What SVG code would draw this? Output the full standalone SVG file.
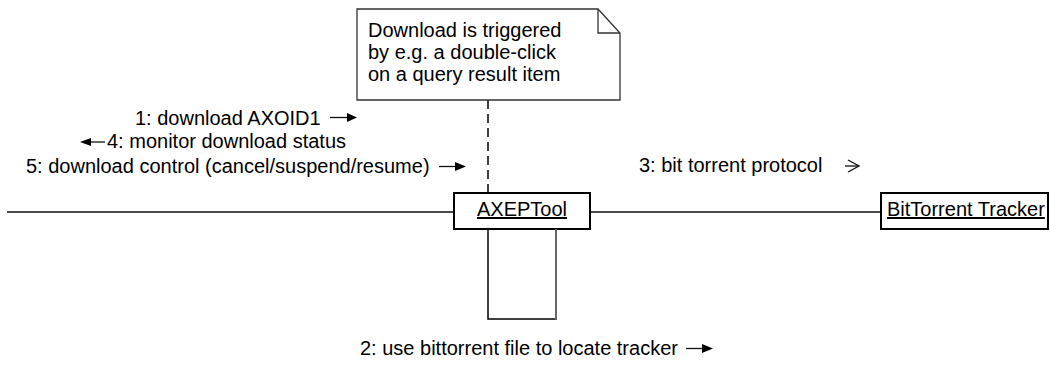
<svg xmlns="http://www.w3.org/2000/svg" width="1050" height="375" viewBox="0 0 1050 375">
<defs>
<style>
text{font-family:"Liberation Sans",Arial,sans-serif;font-size:20px;fill:#000}
.u{text-decoration:underline}
.box{fill:#fff;stroke:#000;stroke-width:2}
.ln{stroke:#111;stroke-width:1.3;fill:none}
.head{fill:#000;stroke:none}
</style>
</defs>
<g id="connectors">
<line class="ln" x1="7" y1="212" x2="454" y2="212"/>
<line class="ln" x1="590" y1="212" x2="881" y2="212"/>
<line x1="488" y1="100" x2="488" y2="193" stroke="#000" stroke-width="1.5" stroke-dasharray="9,5"/>
</g>
<g id="note">
<path d="M357,9 H598 L620,33 V100 H357 Z" fill="#fff" stroke="#333" stroke-width="1.3"/>
<path d="M598,9 V33 H620" fill="none" stroke="#333" stroke-width="1.3"/>
<text x="368" y="37">Download is triggered</text>
<text x="368" y="59">by e.g. a double-click</text>
<text x="368" y="81">on a query result item</text>
</g>
<g id="axeptool">
<rect class="box" x="454" y="193" width="136" height="36"/>
<text class="u" x="522" y="216" text-anchor="middle">AXEPTool</text>
</g>
<g id="activation">
<path d="M488,229 V319 H556" fill="none" stroke="#000" stroke-width="1.5"/>
<line x1="556" y1="229" x2="556" y2="320" stroke="#666" stroke-width="2"/>
</g>
<g id="tracker">
<rect class="box" x="881" y="193" width="167" height="36"/>
<text class="u" x="887" y="216">BitTorrent Tracker</text>
</g>
<g id="messages">
<text x="135" y="125">1: download AXOID1</text>
<line class="ln" x1="330" y1="117.5" x2="348" y2="117.5"/>
<polygon class="head" points="347,113 357,117.5 347,122"/>
<line class="ln" x1="90" y1="142" x2="105" y2="142"/>
<polygon class="head" points="91,138 80,142 91,146"/>
<text x="107" y="148">4: monitor download status</text>
<text x="26" y="173">5: download control (cancel/suspend/resume)</text>
<line class="ln" x1="439" y1="166.5" x2="456" y2="166.5"/>
<polygon class="head" points="455,162 466,166.5 455,171"/>
<text x="639" y="172">3: bit torrent protocol</text>
<line class="ln" x1="845" y1="166" x2="859" y2="166"/>
<polyline class="ln" points="848,160 859,166 848,172"/>
<text x="360" y="355">2: use bittorrent file to locate tracker</text>
<line class="ln" x1="686" y1="348.5" x2="703" y2="348.5"/>
<polygon class="head" points="702,344 713,348.5 702,353"/>
</g>
</svg>
